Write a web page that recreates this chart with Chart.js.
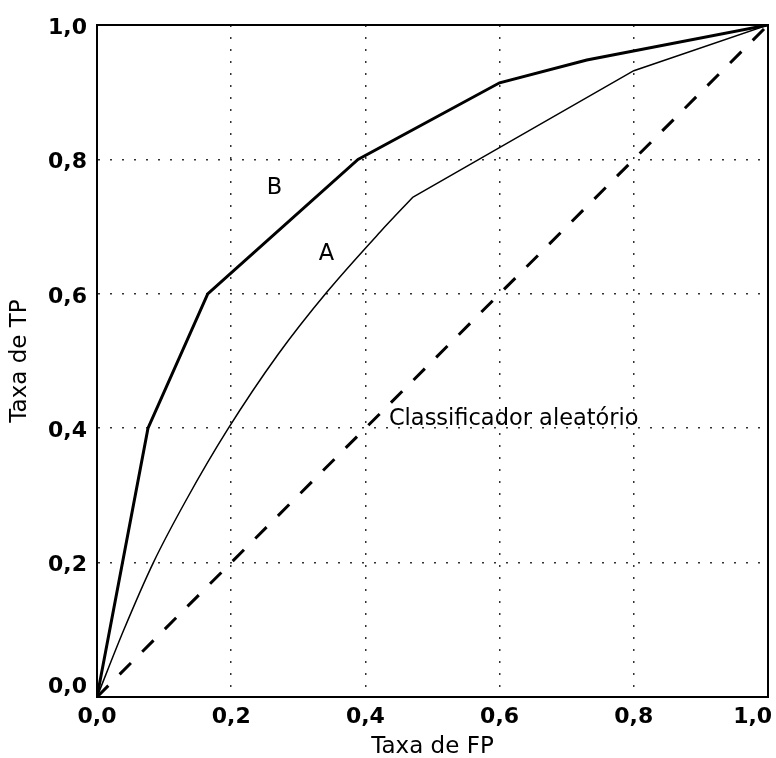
<!DOCTYPE html>
<html>
<head>
<meta charset="utf-8">
<script src="https://cdn.jsdelivr.net/npm/chart.js@4/dist/chart.umd.min.js"></script>
<style>
  body { margin: 0; background: #fff; }
  canvas { display: block; }
</style>
</head>
<body>
<canvas id="rocChart" width="776" height="758"></canvas>
<script>
// curva B (mais grossa)
const fprB = [0, 0.076, 0.165, 0.389, 0.6, 0.73, 1];
const tprB = [0, 0.4, 0.6, 0.8, 0.914, 0.948, 1];

// curva A: trecho curvo e trecho reto
const fprA = [0, 0.04, 0.084, 0.134, 0.194, 0.27, 0.343, 0.422, 0.471];
const tprA = [0, 0.1, 0.2, 0.295, 0.397, 0.51, 0.603, 0.692, 0.744];
const fprA2 = [0.471, 0.8, 1];
const tprA2 = [0.744, 0.932, 1];

// classificador aleatório
const fprRand = [0, 1];
const tprRand = [0, 1];

const axisTicks = [0, 0.2, 0.4, 0.6, 0.8, 1];

// textos dentro do gráfico: [texto, x, y, alinhamento]
const annotations = [
    ['B', 0.2645, 0.7485, 'center'],
    ['A', 0.342, 0.650, 'center'],
    ['Classificador aleatório', 0.435, 0.4048, 'left']
];

function toPoints(xs, ys) {
    return xs.map((x, i) => ({ x: x, y: ys[i] }));
}

function fmt(v) {
    return v.toFixed(1).replace('.', ',');
}

Chart.defaults.font.family = '"DejaVu Sans", Verdana, sans-serif';
Chart.defaults.color = '#000';

const annotationPlugin = {
    id: 'annotationText',
    afterDatasetsDraw(chart) {
        const ctx = chart.ctx;
        const xs = chart.scales.x;
        const ys = chart.scales.y;
        ctx.save();
        ctx.fillStyle = '#000';
        ctx.font = '22.5px "DejaVu Sans", Verdana, sans-serif';
        ctx.textBaseline = 'alphabetic';
        annotations.forEach(a => {
            ctx.textAlign = a[3];
            ctx.fillText(a[0], xs.getPixelForValue(a[1]), ys.getPixelForValue(a[2]));
        });
        ctx.restore();
    }
};

const gridColor = c => (c.tick && (c.tick.value === 0 || c.tick.value === 1)) ? 'rgba(0,0,0,0)' : '#333';

const lineStyle = (width) => ({
    showLine: true,
    borderColor: '#000',
    borderWidth: width,
    pointRadius: 0
});

new Chart(document.getElementById('rocChart'), {
    type: 'scatter',
    data: {
        datasets: [
            Object.assign({ label: 'B', data: toPoints(fprB, tprB), tension: 0 }, lineStyle(3)),
            Object.assign({ label: 'A', data: toPoints(fprA, tprA), cubicInterpolationMode: 'monotone' }, lineStyle(1.5)),
            Object.assign({ label: 'A (reta)', data: toPoints(fprA2, tprA2), tension: 0 }, lineStyle(1.5)),
            Object.assign({ label: 'Classificador aleatório', data: toPoints(fprRand, tprRand), borderDash: [16, 16] }, lineStyle(3))
        ]
    },
    options: {
        responsive: false,
        animation: false,
        layout: { padding: { top: 25, right: 8, left: 0, bottom: 0 } },
        plugins: {
            legend: { display: false },
            tooltip: { enabled: false }
        },
        scales: {
            x: {
                type: 'linear',
                min: 0,
                max: 1,
                afterBuildTicks: s => { s.ticks = axisTicks.map(v => ({ value: v })); },
                afterFit: s => { s.height = 61; s.paddingLeft = 0; s.paddingRight = 0; },
                ticks: {
                    padding: 7,
                    maxRotation: 0,
                    font: { size: 22, weight: 'bold', lineHeight: 1.2 },
                    callback: v => v === 1 ? fmt(v) + '    ' : fmt(v)
                },
                grid: { color: gridColor, lineWidth: 1.5, drawTicks: false },
                border: { display: true, color: '#000', width: 2, dash: [2, 10] },
                title: {
                    display: true,
                    text: 'Taxa de FP',
                    font: { size: 23, lineHeight: 1 },
                    padding: { top: 0, bottom: -1 }
                }
            },
            y: {
                type: 'linear',
                min: 0,
                max: 1,
                afterBuildTicks: s => { s.ticks = axisTicks.map(v => ({ value: v })); },
                afterFit: s => { s.width = 97; s.paddingTop = 0; s.paddingBottom = 0; },
                ticks: {
                    padding: 10,
                    labelOffset: 3,
                    font: { size: 22, weight: 'bold', lineHeight: 1.2 },
                    callback: v => v === 0 ? [fmt(v), ''] : fmt(v)
                },
                grid: { color: gridColor, lineWidth: 1.5, drawTicks: false },
                border: { display: true, color: '#000', width: 2, dash: [2, 10] },
                title: {
                    display: true,
                    text: 'Taxa de TP',
                    font: { size: 23, lineHeight: 1.2 },
                    padding: { top: 6, bottom: 0 }
                }
            },
            xTop: {
                type: 'linear',
                position: 'top',
                min: 0,
                max: 1,
                ticks: { display: false },
                grid: { display: false, drawTicks: false },
                border: { display: true, color: '#000', width: 2 }
            },
            yRight: {
                type: 'linear',
                position: 'right',
                min: 0,
                max: 1,
                ticks: { display: false },
                grid: { display: false, drawTicks: false },
                border: { display: true, color: '#000', width: 2 }
            }
        }
    },
    plugins: [annotationPlugin]
});
</script>
</body>
</html>
